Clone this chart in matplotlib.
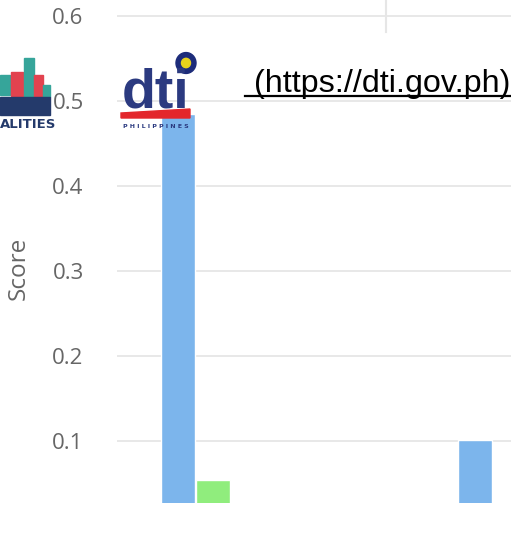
import matplotlib
matplotlib.use("Agg")
import matplotlib.pyplot as plt
import numpy as np
from matplotlib.patches import Rectangle, Circle, Polygon

# ── data ──
categories = ["A", "B"]
series_blue = [0.485, 0.101]
series_green = [0.054, np.nan]
yticks = [0.1, 0.2, 0.3, 0.4, 0.5, 0.6]
link_text = " (https://dti.gov.ph)"

W, H = 511, 533
fig = plt.figure(figsize=(W / 100, H / 100), dpi=100)
fig.patch.set_facecolor("white")

# axes: left edge of grid at x=117, bottom of bars at y=503, top cropped
ax = fig.add_axes([117 / W, (H - 503) / H, 1 - 117 / W, 503 / H])
ax.set_facecolor("white")

x = np.arange(len(categories))
bw = 0.1145
off = 0.059
ax.bar(x - off, series_blue, width=bw, color="#7cb5ec", edgecolor="white", linewidth=1, zorder=3)
ax.bar(x + off, series_green, width=bw, color="#90ed7d", edgecolor="white", linewidth=1, zorder=3)

ax.set_xlim(-0.2643, 1.062)
ax.set_ylim(0.027, 0.6188)
ax.set_yticks(yticks)
ax.set_yticklabels([f"{v:.1f}" for v in yticks])
ax.yaxis.grid(True, color="#e6e6e6", linewidth=1.3, zorder=0)
ax.set_xticks([])
for s in ax.spines.values():
    s.set_visible(False)
ax.tick_params(axis="y", length=0, pad=24, labelsize=16, labelcolor="#666666")
for lbl in ax.get_yticklabels():
    lbl.set_family(["Open Sans", "DejaVu Sans"])

# short vertical line near top
ax.plot([0.64, 0.64], [0.6188 - 32 / 850, 0.6188], color="#e6e6e6", linewidth=1.5,
        zorder=1, clip_on=False)

fig.text(19 / W, 1 - 268 / H, "Score", rotation=90, ha="center", va="center",
         fontsize=17.5, color="#666666", family=["Open Sans", "DejaVu Sans"])

# ── link text with underline ──
t = fig.text(245 / W, 1 - 92 / H, link_text, ha="left", va="baseline",
             fontsize=23.2, color="black", family=["Liberation Sans", "DejaVu Sans"])
fig.canvas.draw()
bb = t.get_window_extent()
fig.add_artist(plt.Line2D([bb.x0 / W, bb.x1 / W], [1 - 96 / H, 1 - 96 / H],
                          color="black", linewidth=1.6, transform=fig.transFigure))

# ── dti logo (approximation) ──
navy = "#2b3a80"
fig.text(156 / W, 1 - 108 / H, "dti", ha="center", va="baseline", fontsize=40,
         fontweight="bold", color=navy, family=["Liberation Sans", "DejaVu Sans"])
fig.add_artist(Polygon([[121 / W, 1 - 113 / H], [190 / W, 1 - 109 / H],
                        [190 / W, 1 - 118 / H], [121 / W, 1 - 118 / H]],
                       closed=True, color="#e3262b", transform=fig.transFigure))
fig.text(156 / W, 1 - 126 / H, "P H I L I P P I N E S", ha="center", va="center",
         fontsize=4.5, fontweight="bold", color=navy)
fig.add_artist(Circle((186 / W, 1 - 63 / H), 10 / W, color="#1d2c7a",
                      transform=fig.transFigure))
fig.add_artist(Circle((186 / W, 1 - 63 / H), 4.5 / W, color="#e8d21c",
                      transform=fig.transFigure))

# ── cities logo fragment (approximation) ──
for (x0, y0, w, h, c) in [(0, 75, 10, 20, "#36a59a"), (11, 72, 12, 25, "#e2434f"),
                          (24, 58, 10, 39, "#36a59a"), (34, 75, 9, 22, "#e2434f"),
                          (43, 85, 7, 12, "#36a59a")]:
    fig.add_artist(Rectangle((x0 / W, 1 - (y0 + h) / H), w / W, h / H, color=c,
                             transform=fig.transFigure))
fig.add_artist(Rectangle((0, 1 - 115 / H), 50 / W, 18 / H, color="#243a6b",
                         transform=fig.transFigure))
fig.text(0, 1 - 124 / H, "ALITIES", ha="left", va="center", fontsize=9.5,
         fontweight="bold", color="#243a6b")

fig.savefig("out.png", dpi=100, facecolor="white")
